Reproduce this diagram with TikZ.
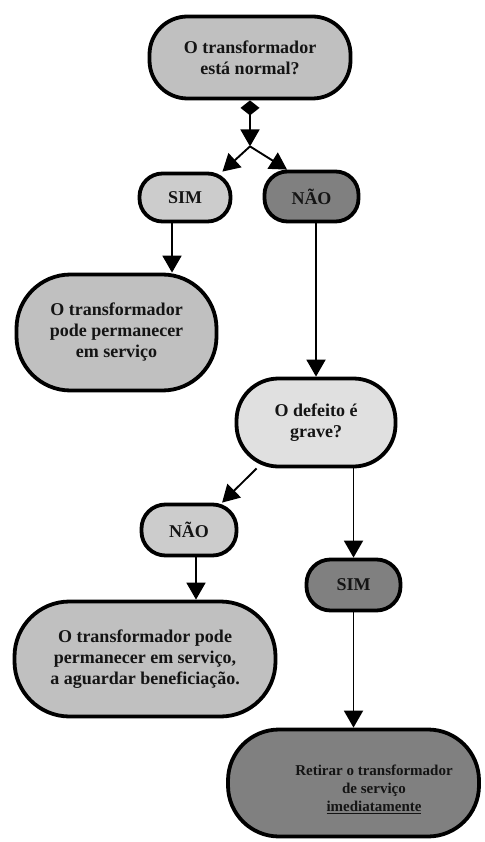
\documentclass[tikz,border=0pt]{standalone}
\usepackage{fontspec}
\setmainfont{Liberation Serif}
\usetikzlibrary{arrows.meta,calc}
\definecolor{gA}{RGB}{192,192,192}
\definecolor{gB}{RGB}{204,204,204}
\definecolor{gC}{RGB}{128,128,128}
\definecolor{gD}{RGB}{224,224,224}
\definecolor{txtc}{RGB}{20,20,20}
\tikzset{
  flowbox/.style={draw=black, line width=3.8pt, inner sep=0pt, align=center,
    text=txtc, font=\bfseries\fontsize{18}{21}\selectfont},
  conn/.style={line width=1.9pt, -{Triangle[length=17pt,width=19pt]}},
  smalltxt/.style={align=center, text=txtc, font=\bfseries\fontsize{15}{18}\selectfont}
}
\begin{document}
\begin{tikzpicture}[x=1pt,y=-1pt]
\useasboundingbox (0,0) rectangle (484,842);
% boxes
\node[flowbox, fill=gA, rounded corners=38pt, minimum width=201pt, minimum height=82pt] (top) at (250,57.5) {O transformador\\está normal?};
\node[flowbox, fill=gB, rounded corners=23pt, minimum width=91pt, minimum height=48pt] (sim1) at (185,197.5) {SIM};
\node[flowbox, fill=gC, rounded corners=23pt, minimum width=94pt, minimum height=50pt] (nao1) at (311.5,196.5) {NÃO};
\node[flowbox, fill=gA, rounded corners=54pt, minimum width=200pt, minimum height=116pt] (n3) at (116.5,332.5) {O transformador\\pode permanecer\\em serviço};
\node[flowbox, fill=gD, rounded corners=42pt, minimum width=159pt, minimum height=88pt] (def) at (316,422.5) {O defeito é\\grave?};
\node[flowbox, fill=gB, rounded corners=24pt, minimum width=95pt, minimum height=51pt] (nao2) at (189,530) {NÃO};
\node[flowbox, fill=gC, rounded corners=24pt, minimum width=94pt, minimum height=51pt] (sim2) at (353.5,585) {SIM};
\node[flowbox, fill=gA, rounded corners=55pt, minimum width=261pt, minimum height=115pt] (benef) at (145,659) {O transformador pode\\permanecer em serviço,\\a aguardar beneficiação.};
\node[flowbox, fill=gC, rounded corners=51pt, minimum width=251pt, minimum height=107pt] (ret) at (353.5,783) {};
\node[smalltxt] (rettxt) at (374,789) {Retirar o transformador\\de serviço\\\underline{imediatamente}};
% connectors
\coordinate (j) at ($(top.south)+(0,46)$);
\draw[line width=1.9pt, {Diamond[length=15pt,width=19pt]}-{Triangle[length=17pt,width=19pt]}] (top.south) -- (j);
\draw[conn] (j) -- ($(sim1.north)!0.79!(sim1.north east)$);
\draw[conn] (j) -- ($(nao1.north)!0.5!(nao1.north west)$);
\draw[conn] ([xshift=-13pt]sim1.south) -- ([xshift=-13pt]sim1.south |- n3.north);
\draw[conn] (nao1.south -| def.north) -- (def.north);
\draw[conn] ($(def.south)!0.73!(def.south west)$) -- ($(nao2.north)!0.67!(nao2.north east)$);
\draw[conn] (def.south -| sim2.north) -- (sim2.north);
\draw[conn] ([xshift=7pt]nao2.south) -- ([xshift=7pt]nao2.south |- benef.north);
\draw[conn] (sim2.south) -- (ret.north);
\end{tikzpicture}
\end{document}
